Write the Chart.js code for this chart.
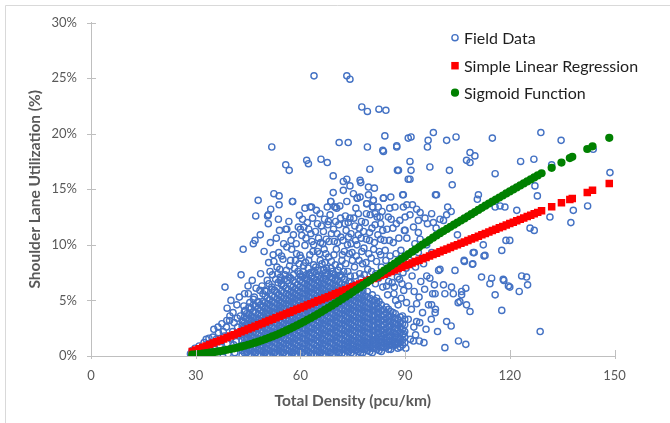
<!DOCTYPE html>
<html><head><meta charset="utf-8">
<script src="https://cdn.jsdelivr.net/npm/chart.js@4.4.1/dist/chart.umd.min.js"></script>
<style>html,body{margin:0;padding:0;background:#fff;}canvas{display:block;}</style>
</head><body>
<canvas id="c" width="670" height="423"></canvas>
<script>
// ---------- tick labels / names ----------
const xTicks = [0, 30, 60, 90, 120, 150];
const yTicks = [0, 5, 10, 15, 20, 25, 30];
const seriesNames = ['Field Data', 'Simple Linear Regression', 'Sigmoid Function'];

// ---------- fitted series (x = density, y = %) ----------
const fitX = [
29,30,31,32,33,34,35,36,37,38,
39,40,41,42,43,44,45,46,47,48,
49,50,51,52,53,54,55,56,57,58,
59,60,61,62,63,64,65,66,67,68,
69,70,71,72,73,74,75,76,77,78,
79,80,81,82,83,84,85,86,87,88,
89,90,91,92,93,94,95,96,97,98,
99,100,101,102,103,104,105,106,107,108,
109,110,111,112,113,114,115,116,117,118,
119,120,121,122,123,124,125,126,127,128,
129.1,132,134.8,137.2,137.9,142.2,143.7,148.5];
const linearY = [
0.41,0.53,0.66,0.78,0.91,1.04,1.16,1.29,1.42,1.54,
1.67,1.80,1.92,2.05,2.18,2.30,2.43,2.55,2.68,2.81,
2.93,3.06,3.19,3.31,3.44,3.57,3.69,3.82,3.94,4.07,
4.20,4.32,4.45,4.58,4.70,4.83,4.96,5.08,5.21,5.34,
5.46,5.59,5.71,5.84,5.97,6.09,6.22,6.35,6.47,6.60,
6.73,6.85,6.98,7.10,7.23,7.36,7.48,7.61,7.74,7.86,
7.99,8.12,8.24,8.37,8.50,8.62,8.75,8.87,9.00,9.13,
9.25,9.38,9.51,9.63,9.76,9.89,10.01,10.14,10.26,10.39,
10.52,10.64,10.77,10.90,11.02,11.15,11.28,11.40,11.53,11.66,
11.78,11.91,12.03,12.16,12.29,12.41,12.54,12.67,12.79,12.92,
13.06,13.42,13.78,14.08,14.17,14.71,14.90,15.51];
const sigmoidY = [
0.12,0.15,0.18,0.22,0.26,0.30,0.34,0.39,0.44,0.50,
0.56,0.62,0.69,0.76,0.84,0.92,1.01,1.10,1.20,1.30,
1.41,1.52,1.64,1.76,1.89,2.02,2.16,2.30,2.45,2.60,
2.76,2.92,3.08,3.25,3.42,3.60,3.78,3.96,4.15,4.34,
4.53,4.73,4.93,5.13,5.33,5.54,5.75,5.96,6.17,6.38,
6.60,6.81,7.03,7.24,7.46,7.68,7.89,8.11,8.32,8.54,
8.75,8.96,9.17,9.38,9.59,9.80,10.01,10.22,10.43,10.64,
10.85,11.05,11.24,11.43,11.62,11.81,12.00,12.19,12.38,12.57,
12.76,12.95,13.14,13.33,13.52,13.71,13.90,14.08,14.26,14.44,
14.62,14.80,14.98,15.16,15.34,15.52,15.70,15.88,16.06,16.24,
16.44,16.93,17.40,17.80,17.92,18.62,18.86,19.63];

// ---------- field data (x = density, y = %) ----------
const fieldLow = [
[28.5,0.2],[29,0.5],[29.5,0.1],[29.8,0.7],[30.5,0.4],[31,0.9],[31.3,0.1],[32,0.6],[32.4,1.2],[33,0.3],
[33,1.5],[33.5,0.9],[33.6,1.1],[33.8,1.6],[34.5,0.2],[34.8,1.1],[34.9,1.7],[35.5,0.6],[35.9,1.5],[36.3,0.2],
[36.4,2.6],[36.5,2.1],[37,0.9],[37.4,1.3],[37.5,2.9],[38,0.4],[38.2,1.8],[38.8,2.6],[38.9,3.2],[39,1.1],
[39,4.3],[39.3,0.2],[39.7,3.2],[39.8,3.6],[40,1.6],[40.1,5.0],[40.3,0.7],[40.6,2.2],[40.7,3.9],[41,3.0],
[41.2,0.3],[41.6,1.3],[41.8,4.6],[42,2.6],[42.3,1.9],[42.5,5.3],[42.6,0.8],[42.8,3.6],[43.6,3.1],[43.8,4.5],
[44,5.6],[45,6.3],[35.2,2.4],[37.9,2.2],[40.9,1.0],[41.9,3.4]];

const coreX = [43.3,44.6,45.9,47.2,48.6,49.9,51.2,52.6,53.9,55.2,56.6,57.9,59.2,60.6,61.9,63.2,64.6,65.9,
67.2,68.6,69.9,71.2,72.6,73.9,75.2,76.6,77.9,79.2,80.6,81.9,83.2,84.6,85.9,87.2,88.6,89.9];
const coreY = [
[0.1,0.5,0.9,1.4,1.8,2.3,2.7,3.2],
[0.3,0.7,1.1,1.6,2.0,2.5,2.9,3.4,3.8],
[0.1,0.5,1.0,1.4,1.8,2.3,2.8,3.2,3.6,4.3],
[0.3,0.7,1.2,1.6,2.1,2.5,3.0,3.4,3.9,4.5],
[0.1,0.5,0.9,1.4,1.8,2.3,2.7,3.2,3.6,4.1,4.6],
[0.3,0.7,1.1,1.6,2.0,2.5,2.9,3.4,3.8,4.3,4.8,5.4],
[0.1,0.5,1.0,1.4,1.9,2.3,2.8,3.2,3.7,4.1,4.6,5.1],
[0.3,0.7,1.2,1.6,2.1,2.5,3.0,3.4,3.9,4.3,4.8,5.3,5.9],
[0.1,0.5,0.9,1.4,1.8,2.3,2.7,3.2,3.6,4.1,4.5,5.0,5.5],
[0.3,0.7,1.1,1.6,2.0,2.5,2.9,3.4,3.8,4.3,4.7,5.2,5.7,6.3],
[0.1,0.5,1.0,1.4,1.9,2.3,2.8,3.2,3.7,4.1,4.6,5.0,5.5,6.0],
[0.3,0.7,1.2,1.6,2.1,2.5,3.0,3.4,3.9,4.3,4.8,5.2,5.7,6.2,6.8],
[0.1,0.5,0.9,1.4,1.8,2.3,2.7,3.2,3.6,4.1,4.5,5.0,5.4,5.9,6.4],
[0.3,0.7,1.1,1.6,2.0,2.5,2.9,3.4,3.8,4.3,4.7,5.2,5.6,6.1,6.6,7.1],
[0.1,0.5,1.0,1.4,1.9,2.3,2.8,3.2,3.7,4.1,4.6,5.0,5.5,5.9,6.4,6.9],
[0.2,0.7,1.2,1.6,2.1,2.5,3.0,3.4,3.9,4.3,4.8,5.2,5.7,6.1,6.6,7.2],
[0.1,0.5,0.9,1.4,1.8,2.3,2.7,3.2,3.6,4.1,4.5,5.0,5.4,5.9,6.3,6.8,7.4],
[0.3,0.7,1.1,1.6,2.0,2.5,2.9,3.4,3.8,4.3,4.7,5.2,5.6,6.1,6.5,7.0],
[0.1,0.5,1.0,1.4,1.9,2.3,2.8,3.2,3.7,4.1,4.6,5.0,5.5,5.9,6.4,6.9,7.5],
[0.3,0.7,1.2,1.6,2.1,2.5,3.0,3.4,3.9,4.3,4.8,5.2,5.7,6.1,6.6,7.1],
[0.2,0.5,0.9,1.4,1.8,2.3,2.7,3.2,3.6,4.1,4.5,5.0,5.4,5.9,6.3,6.8,7.3],
[0.3,0.7,1.1,1.6,2.0,2.5,2.9,3.4,3.8,4.3,4.7,5.2,5.6,6.1,6.6,7.2],
[0.2,0.6,1.0,1.4,1.9,2.3,2.8,3.2,3.7,4.1,4.6,5.0,5.5,5.9,6.4,6.9],
[0.4,0.8,1.2,1.6,2.1,2.5,3.0,3.4,3.9,4.3,4.8,5.2,5.7,6.1,6.7],
[0.2,0.6,1.0,1.4,1.8,2.3,2.7,3.2,3.6,4.1,4.5,5.0,5.4,5.9,6.4],
[0.4,0.8,1.2,1.6,2.1,2.5,3.0,3.4,3.9,4.3,4.8,5.2,5.7,6.2],
[0.3,0.6,1.0,1.4,1.8,2.3,2.7,3.2,3.6,4.1,4.5,5.0,5.4,5.9],
[0.5,0.9,1.2,1.6,2.1,2.5,3.0,3.4,3.9,4.3,4.8,5.3,5.8],
[0.3,0.7,1.0,1.4,1.8,2.3,2.7,3.2,3.6,4.1,4.5,5.0,5.5],
[0.6,1.0,1.3,1.6,2.1,2.5,3.0,3.4,3.9,4.3,4.8,5.2],
[0.4,0.8,1.2,1.5,1.8,2.3,2.7,3.2,3.6,4.1,4.6],
[0.8,1.1,1.4,1.7,2.1,2.5,3.0,3.4,3.9,4.4],
[0.6,1.0,1.3,1.8,2.2,2.7,3.1,3.6,4.0],
[1.0,1.3,1.7,2.0,2.5,2.9,3.4,3.8],
[0.8,1.2,1.6,2.1,2.6,3.0,3.5],
[1.2,1.7,2.2,2.8,3.3]];

const coreX2 = [43.95,45.25,46.55,47.9,49.25,50.55,51.9,53.25,54.55,55.9,57.25,58.55,59.9,61.25,62.55,63.9,65.25,66.55,
67.9,69.25,70.55,71.9,73.25,74.55,75.9,77.25,78.55,79.9,81.25,82.55,83.9,85.25,86.55,87.9,89.25];
const coreY2 = [
[0.3,0.75,1.15,1.6,2.05,2.5,2.95,3.5,4.0],
[0.2,0.6,1.05,1.5,1.95,2.4,2.85,3.3,3.75,4.4],
[0.35,0.8,1.25,1.7,2.15,2.6,3.05,3.5,3.95,4.6,5.1],
[0.2,0.65,1.1,1.55,2.0,2.45,2.9,3.35,3.8,4.25,4.8],
[0.35,0.8,1.25,1.7,2.15,2.6,3.05,3.5,3.95,4.4,4.9,5.6],
[0.2,0.65,1.1,1.55,2.0,2.45,2.9,3.35,3.8,4.25,4.7,5.2],
[0.35,0.8,1.25,1.7,2.15,2.6,3.05,3.5,3.95,4.4,4.85,5.4,6.0],
[0.2,0.65,1.1,1.55,2.0,2.45,2.9,3.35,3.8,4.25,4.7,5.15,5.7],
[0.35,0.8,1.25,1.7,2.15,2.6,3.05,3.5,3.95,4.4,4.85,5.3,5.8,6.5],
[0.2,0.65,1.1,1.55,2.0,2.45,2.9,3.35,3.8,4.25,4.7,5.15,5.6,6.1],
[0.35,0.8,1.25,1.7,2.15,2.6,3.05,3.5,3.95,4.4,4.85,5.3,5.75,6.3,7.0],
[0.2,0.65,1.1,1.55,2.0,2.45,2.9,3.35,3.8,4.25,4.7,5.15,5.6,6.05,6.6],
[0.35,0.8,1.25,1.7,2.15,2.6,3.05,3.5,3.95,4.4,4.85,5.3,5.75,6.2,6.8,7.4],
[0.2,0.65,1.1,1.55,2.0,2.45,2.9,3.35,3.8,4.25,4.7,5.15,5.6,6.05,6.5,7.0],
[0.35,0.8,1.25,1.7,2.15,2.6,3.05,3.5,3.95,4.4,4.85,5.3,5.75,6.2,6.65,7.3],
[0.2,0.65,1.1,1.55,2.0,2.45,2.9,3.35,3.8,4.25,4.7,5.15,5.6,6.05,6.5,6.95,7.6],
[0.35,0.8,1.25,1.7,2.15,2.6,3.05,3.5,3.95,4.4,4.85,5.3,5.75,6.2,6.65,7.2],
[0.2,0.65,1.1,1.55,2.0,2.45,2.9,3.35,3.8,4.25,4.7,5.15,5.6,6.05,6.5,6.95,7.7],
[0.35,0.8,1.25,1.7,2.15,2.6,3.05,3.5,3.95,4.4,4.85,5.3,5.75,6.2,6.65,7.3],
[0.2,0.65,1.1,1.55,2.0,2.45,2.9,3.35,3.8,4.25,4.7,5.15,5.6,6.05,6.5,7.0,7.6],
[0.35,0.8,1.25,1.7,2.15,2.6,3.05,3.5,3.95,4.4,4.85,5.3,5.75,6.2,6.8],
[0.25,0.65,1.1,1.55,2.0,2.45,2.9,3.35,3.8,4.25,4.7,5.15,5.6,6.05,6.5,7.1],
[0.45,0.85,1.25,1.7,2.15,2.6,3.05,3.5,3.95,4.4,4.85,5.3,5.75,6.3],
[0.3,0.65,1.1,1.55,2.0,2.45,2.9,3.35,3.8,4.25,4.7,5.15,5.6,6.05,6.6],
[0.5,0.85,1.25,1.7,2.15,2.6,3.05,3.5,3.95,4.4,4.85,5.3,5.8],
[0.3,0.7,1.1,1.55,2.0,2.45,2.9,3.35,3.8,4.25,4.7,5.15,5.6,6.1],
[0.6,0.95,1.3,1.7,2.15,2.6,3.05,3.5,3.95,4.4,4.85,5.4],
[0.4,0.75,1.15,1.55,2.0,2.45,2.9,3.35,3.8,4.25,4.7,5.2],
[0.7,1.1,1.45,1.85,2.3,2.75,3.2,3.65,4.1,4.55,5.0],
[0.5,0.9,1.3,1.7,2.05,2.5,2.95,3.4,3.85,4.3,4.9],
[0.8,1.15,1.55,1.95,2.35,2.8,3.25,3.7,4.15],
[0.6,1.0,1.4,1.8,2.25,2.7,3.15,3.6,4.2],
[0.9,1.3,1.7,2.1,2.55,3.0,3.45,3.9],
[0.7,1.1,1.55,2.0,2.4,2.8,3.3],
[1.0,1.45,1.9,2.4,2.9,3.6]];

const fieldHalo = [
[44.2,4.1],[45.5,4.8],[46.8,5.3],[47.9,4.9],[48.4,5.9],[45.1,5.6],[49.0,6.3],[47.3,6.1],
[49.8,5.9],[50.5,6.8],[51.3,7.6],[51.8,6.2],[52.9,6.9],[53.3,8.0],[54.1,7.8],[54.6,6.4],[50.9,8.4],[52.2,9.1],[53.8,9.3],[55.0,8.7],
[55.6,7.3],[56.3,6.8],[56.9,8.1],[57.5,9.6],[58.0,7.3],[58.6,8.6],[59.3,7.6],[59.9,9.05],[56.1,9.8],[57.3,10.4],
[58.0,10.9],[59.4,11.6],[59.7,12.65],[58.8,10.1],[55.8,11.4],[57.7,13.9],[56.7,12.1],
[60.4,10.85],[61.3,9.95],[60.8,7.6],[61.5,8.4],[62.2,7.9],[62.7,9.1],[63.3,10.3],[63.8,8.2],[64.3,11.2],[64.9,9.4],
[65.6,12.8],[65.2,10.6],[61.3,13.3],[62.8,13.4],[62.0,12.0],[63.5,12.4],[60.2,8.8],[61.0,11.6],[64.0,7.6],[65.7,8.6],
[66.0,11.7],[60.6,12.3],[63.0,11.0],[64.6,13.1],
[66.7,7.8],[67.3,9.2],[67.7,13.4],[68.2,10.3],[68.7,13.9],[68.9,8.5],[69.5,11.4],[69.9,13.4],[70.3,9.6],[70.4,13.3],
[70.8,7.7],[71.3,13.5],[71.6,10.7],[71.9,8.6],[66.9,12.3],[67.9,11.8],[68.5,12.7],[70.1,12.1],[69.2,7.4],[71.0,11.8],
[66.4,10.1],[67.0,8.4],
[72.3,14.9],[72.6,9.4],[73.1,11.3],[73.3,13.9],[73.6,7.6],[74.2,12.4],[74.5,10.1],[74.9,8.6],[75.2,14.6],[75.6,11.7],
[76.0,9.0],[76.3,14.2],[76.6,12.8],[77.0,7.4],[77.4,10.6],[77.8,8.3],[72.9,12.6],[74.0,9.2],[75.9,13.3],[77.1,14.3],
[76.9,11.5],[73.8,10.7],
[78.2,9.7],[78.6,12.0],[79.0,13.7],[79.5,14.5],[79.3,7.8],[79.8,11.1],[80.3,8.8],[80.7,13.4],[80.9,14.0],[81.2,10.2],
[81.6,7.4],[82.0,12.5],[82.3,13.4],[82.6,9.4],[82.8,12.5],[83.2,8.0],[83.6,11.3],[83.8,14.2],[78.9,10.5],[80.0,12.7],
[81.4,11.8],[83.0,10.5],
[84.3,9.5],[84.7,6.3],[85.2,12.5],[85.5,10.4],[85.9,14.3],[86.1,8.1],[86.5,11.5],[86.8,5.6],[87.1,13.4],[87.4,9.2],
[87.8,7.1],[88.2,10.6],[88.5,12.2],[88.9,5.2],[89.3,8.4],[89.5,13.4],[89.8,11.3],[84.9,7.4],[86.3,6.6],[88.0,4.6],
[89.1,6.5],[85.7,9.0]];

const fieldMid = [
[50.2,5.8],[51.0,6.5],[52.0,7.3],[52.5,5.9],[53.6,6.6],[54.3,7.1],[55.4,6.9],[56.0,7.7],[56.8,7.1],[57.2,8.6],
[58.3,7.9],[58.9,9.2],[59.6,8.3],[60.1,7.2],[60.9,8.1],[61.7,7.3],[62.4,8.6],[62.9,7.5],[63.6,9.4],[64.4,8.0],
[65.0,7.7],[65.5,9.2],[66.2,8.3],[66.8,9.6],[67.5,7.9],[68.1,8.9],[68.8,7.9],[69.6,9.1],[70.0,8.2],[70.6,10.2],
[71.3,8.0],[72.0,9.1],[72.4,7.6],[73.0,8.3],[73.5,10.0],[74.3,7.2],[74.8,9.3],[75.5,8.0],[76.2,10.0],[76.8,8.6],
[77.6,9.4],[78.3,7.3],[78.8,8.4],[79.6,9.2],[80.4,7.6],[81.0,9.6],[81.8,8.5],[82.4,7.0],[83.0,9.1],[83.7,7.5],
[84.5,8.6],[85.3,6.7],[86.0,7.6],[86.9,6.2],[87.6,8.3],[88.4,6.9],[89.4,7.5],[85.0,5.5],[87.3,5.0],[89.6,5.9],
[83.6,6.2],[81.5,6.5],[79.4,6.7],[77.4,7.0],[75.6,7.2],[71.6,7.3],[67.3,7.2],[64.8,7.1],[62.0,6.9],
[60.0,11.4],[61.6,10.6],[62.4,11.4],[63.8,10.0],[64.9,11.9],[65.8,10.2],[66.6,11.2],[67.4,10.5],[68.0,12.1],[68.9,11.0],
[69.7,10.3],[70.5,11.0],[71.5,12.4],[72.2,10.4],[72.8,11.9],[73.7,12.0],[74.5,11.0],[75.3,12.4],[75.8,10.4],[76.6,10.9],
[77.5,12.1],[78.1,11.2],[78.9,12.8],[79.8,10.4],[80.5,11.5],[81.4,12.8],[82.2,10.9],[83.0,11.9],[84.0,10.4],[84.8,11.4],
[85.6,13.3],[86.6,10.2],[87.5,11.9],[88.8,9.5],[86.0,12.3],[83.4,13.0]];

const fieldUpper = [
[38.4,6.2],[43,7.3],[43.6,9.6],[46.5,10.1],[47,10.4],[47.2,12.6],[46.2,6.8],[48.6,7.4],[50.6,12.6],[50.8,11.9],
[53.7,12.3],[54,11.3],[56.1,11.4],[52.4,8.5],[53.5,7.4],[47.9,14.0],[51.8,18.8],[52.4,14.6],[53.9,14.4],[51.5,13.2],
[53.9,13.6],[55.8,17.2],[56.8,16.7],[57.8,13.9],[48.5,10.9],[51.4,10.2],[49.6,9.4],[53.1,10.6],[55.2,10.1],[54.6,9.0],
[50.8,12.7],[54.2,6.8],
[63.9,25.2],[73.3,25.2],[74.2,24.9],[77.6,22.4],[79.2,22.0],[82.5,22.2],[84.5,22.1],[84.2,19.8],[71.1,19.2],[73.7,19.2],
[79.2,18.8],[83.6,18.5],[87.6,18.8],[90.9,19.6],[61.8,17.6],[62.3,17.3],[65.9,17.7],[67.7,17.4],[69.4,16.2],[69.4,14.7],
[68.7,13.9],[63.2,13.4],[79.9,16.8],[88.1,16.7],[90.9,15.9],[72.3,15.7],[73.3,15.9],[77.1,15.8],[77.3,15.6],[74.2,15.3],
[79.5,15.2],[81.2,15.1],[89.3,14.5],[69.9,13.4],[80.9,14.0],[83.8,14.2],[76.3,14.2],[79.0,13.7],[80.7,13.4],
[83.8,18.4],[87.6,18.9],[91.7,19.7],[96.6,19.4],[96.4,18.8],[98.1,20.1],[101.9,19.4],[104.6,19.7],[115.0,19.6],[128.9,20.1],
[134.7,19.4],[143.9,18.6],[108.6,18.3],[110.0,18.0],[107.6,17.6],[108.6,17.4],[115.8,16.4],[123.1,17.5],[126.9,17.7],[87.8,16.7],
[91.4,17.5],[91.7,16.7],[97.1,17.0],[102.7,16.7],[103.5,15.4],[99.0,14.5],[91.4,15.9],[132.0,17.2]];

const fieldRight = [
[90.0,11.3],[90.5,10.6],[92.4,11.6],[93.8,11.1],[94.3,10.5],[92.8,10.1],[96.2,10.0],[91.9,9.4],[93.8,9.3],[97.6,9.3],
[90.5,13.6],[92.1,13.6],[93.3,13.2],[90.0,12.5],[91.4,12.7],[94.3,12.9],[95.7,12.4],[97.6,12.8],[100.0,12.3],[101.0,12.2],
[93.8,12.2],[96.4,11.9],[98.1,12.0],[98.9,11.5],
[90.3,7.9],[91.2,8.6],[92.0,7.2],[93.0,8.0],[94.5,6.7],[96.2,7.2],[97.1,7.0],[95.3,8.3],[91.0,6.3],[92.6,5.8],
[94.0,5.3],[95.6,6.0],[97.9,5.6],[90.4,4.8],[91.8,4.2],[93.3,4.7],[95.0,3.9],[96.7,4.6],[98.7,4.2],[90.9,3.3],
[92.5,2.6],[94.2,3.0],[96.0,2.4],[97.5,3.3],[89.6,2.0],[91.5,1.5],[93.0,1.9],[95.4,1.2],[92.4,1.35],[94.1,1.35],
[87.6,1.1],[87.1,1.2],[90.2,0.7],[99.3,2.2],[98.4,6.4],[99.6,7.7],[98.6,5.6],[97.6,4.6],[93.3,3.1],[98.6,3.9],
[100.0,7.8],[104.3,7.7],[111.9,7.1],[114.8,7.0],[114.3,6.5],[117.7,4.1],[118.1,6.9],[120.0,6.2],[123.4,7.2],[124.8,7.1],
[125.1,6.4],[122.7,5.8],[115.8,5.5],[128.7,2.2],[103.3,6.2],[106.2,5.8],[107.4,6.1],[105.7,4.9],[106.2,5.5],[108.6,4.0],
[101.0,6.4],[103.8,5.6],[101.4,5.6],[101.9,3.1],[103.2,2.7],[105.3,1.35],[107.4,1.05],[101.4,0.75],[105.2,4.8],[107.6,4.6],
[118.3,6.8],[119.6,6.3],[112.9,9.05],[109.8,9.3],[109.3,8.25],[107.0,8.5],[105.0,10.9],[102.2,13.4],[101.9,12.7],[103.2,13.0],
[98.7,14.5],[89.5,14.5],[111.0,14.5],[110.7,14.1],[117.2,13.5],[118.6,13.4],[115.8,13.4],[122.0,13.1],[127.2,15.3],[127.9,14.4],
[138.2,13.1],[142.3,13.5],[137.5,12.0],[131.5,12.5],[125.8,11.5],[127.0,11.3],[117.7,9.5],[118.9,10.4],[120.0,10.4],[112.4,10.0],
[112.6,9.0],[109.5,9.3],[109.4,8.3],[106.9,8.6],[148.7,16.5]];

// ---------- build points ----------
const toPts = arr => arr.map(([x, y]) => ({x, y}));
const corePts = [];
coreX.forEach((x, i) => coreY[i].forEach(y => corePts.push({x, y})));
coreX2.forEach((x, i) => coreY2[i].forEach(y => corePts.push({x, y})));
const fieldPts = [...toPts(fieldLow), ...corePts, ...toPts(fieldMid), ...toPts(fieldHalo), ...toPts(fieldUpper), ...toPts(fieldRight)];
const linearPts = fitX.map((x, i) => ({x, y: linearY[i]}));
const sigmoidPts = fitX.map((x, i) => ({x, y: sigmoidY[i]}));

const frame = {
  id: 'frame',
  beforeDraw(chart) {
    const ctx = chart.ctx;
    ctx.save();
    ctx.fillStyle = '#fff';
    ctx.fillRect(0, 0, chart.width, chart.height);
    ctx.strokeStyle = '#d9d9d9';
    ctx.lineWidth = 1;
    ctx.beginPath();
    ctx.moveTo(5.5, chart.height);
    ctx.lineTo(5.5, 5.5);
    ctx.lineTo(chart.width, 5.5);
    ctx.stroke();
    ctx.restore();
  }
};

const crossTicks = {
  id: 'crossTicks',
  afterDraw(chart) {
    const ctx = chart.ctx, xs = chart.scales.x, ys = chart.scales.y;
    ctx.save();
    ctx.strokeStyle = '#bfbfbf';
    ctx.lineWidth = 1;
    ctx.beginPath();
    xs.ticks.forEach(t => {
      const p = Math.round(xs.getPixelForValue(t.value)) + 0.5;
      ctx.moveTo(p, ys.bottom - 6); ctx.lineTo(p, ys.bottom + 3);
    });
    ys.ticks.forEach(t => {
      const p = Math.round(ys.getPixelForValue(t.value)) + 0.5;
      ctx.moveTo(xs.left - 4, p); ctx.lineTo(xs.left + 5, p);
    });
    ctx.stroke();
    ctx.restore();
  }
};

const boxLegend = {
  id: 'boxLegend',
  afterDraw(chart) {
    const ctx = chart.ctx;
    const rowY = [37.7, 65.7, 92.7];
    ctx.save();
    chart.data.datasets.forEach((ds, i) => {
      ctx.fillStyle = ds.backgroundColor;
      ctx.strokeStyle = ds.borderColor;
      ctx.lineWidth = ds.borderWidth;
      Chart.helpers.drawPoint(ctx, {pointStyle: ds.pointStyle, radius: ds.pointRadius, borderWidth: ds.borderWidth, rotation: 0}, 455, rowY[i]);
      ctx.fillStyle = '#1e1e1e';
      ctx.font = '16px Lato';
      ctx.textBaseline = 'middle';
      ctx.textAlign = 'left';
      ctx.fillText(ds.label, 464, rowY[i] + 1);
    });
    ctx.restore();
  }
};

function build() {
  Chart.defaults.font.family = 'Lato';
  new Chart(document.getElementById('c'), {
    type: 'scatter',
    data: {
      datasets: [
        {label: seriesNames[0], data: fieldPts, pointStyle: 'circle', pointRadius: 3.1, borderWidth: 1.4,
         borderColor: '#4472C4', backgroundColor: 'rgba(255,255,255,0)', order: 3},
        {label: seriesNames[1], data: linearPts, pointStyle: 'rect', pointRadius: 5.3, borderWidth: 0,
         borderColor: '#FF0000', backgroundColor: '#FF0000', order: 2},
        {label: seriesNames[2], data: sigmoidPts, pointStyle: 'circle', pointRadius: 4.1, borderWidth: 0,
         borderColor: '#008000', backgroundColor: '#008000', order: 1}
      ]
    },
    options: {
      responsive: false,
      animation: false,
      events: [],
      layout: {padding: {left: 0, right: 55.5, top: 22.5, bottom: 0}},
      plugins: {legend: {display: false}, tooltip: {enabled: false}},
      scales: {
        x: {
          type: 'linear', min: 0, max: 150,
          afterBuildTicks: s => { s.ticks = xTicks.map(v => ({value: v})); },
          afterFit: s => { s.height = 67; },
          ticks: {font: {size: 13}, color: '#595959', padding: 12, maxRotation: 0, autoSkip: false},
          grid: {display: false, drawTicks: false},
          border: {display: true, color: '#bfbfbf', width: 1},
          title: {display: true, text: 'Total Density (pcu/km)', color: '#595959',
                  font: {size: 15.5, weight: 'bold'}, padding: {top: 0, bottom: 13}}
        },
        y: {
          type: 'linear', min: 0, max: 30,
          afterBuildTicks: s => { s.ticks = yTicks.map(v => ({value: v})); },
          afterFit: s => { s.width = 91; },
          ticks: {font: {size: 13}, color: '#595959', padding: 14, callback: v => v + '%'},
          grid: {display: false, drawTicks: false},
          border: {display: true, color: '#bfbfbf', width: 1},
          title: {display: true, text: 'Shoulder Lane Utilization (%)', color: '#595959',
                  font: {size: 15.5, weight: 'bold'}, padding: {top: 26, bottom: 0}}
        }
      }
    },
    plugins: [frame, crossTicks, boxLegend]
  });
}
if (document.fonts && document.fonts.load) {
  Promise.all([document.fonts.load('16px Lato'), document.fonts.load('bold 16px Lato')]).then(build, build);
} else { build(); }
</script>
</body></html>
